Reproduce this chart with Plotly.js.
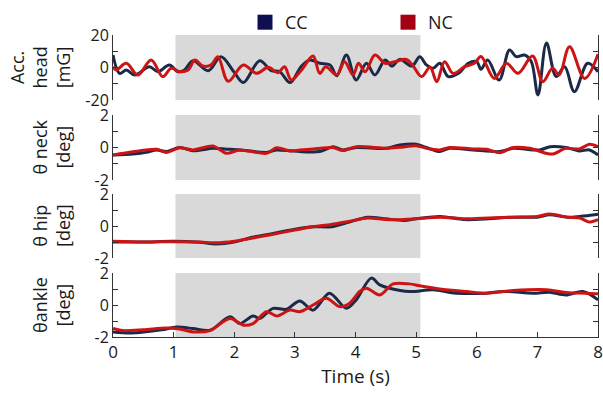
<!DOCTYPE html>
<html>
<head>
<meta charset="utf-8">
<script src="https://cdn.plot.ly/plotly-3.0.1.min.js"></script>
<style>html,body{margin:0;padding:0;background:#fff;}#chart{width:603px;height:394px;}</style>
</head>
<body>
<div id="chart"></div>
<script>
// ---- Data ----
const seriesNames = ['CC', 'NC'];
const xTicks = [0, 1, 2, 3, 4, 5, 6, 7, 8];
const stimWindow = [1.03, 5.07];

// Panel 1: Acc. head [mG]
const tHeadCC = [0,0.11,0.22,0.36,0.60,0.74,0.93,1.07,1.18,1.32,1.57,1.78,2.0,2.15,2.42,2.61,2.75,2.92,3.11,3.25,3.41,3.58,3.69,3.85,4.01,4.18,4.32,4.49,4.60,4.73,4.93,5.06,5.17,5.28,5.39,5.53,5.70,5.86,6.0,6.07,6.18,6.37,6.54,6.65,6.79,6.90,7.01,7.15,7.31,7.45,7.61,7.83,8.0];
const headCC = [7.7,-3.6,-1.5,-4.6,0.5,-2.6,1.6,-2.6,-1.5,4.2,-2.0,6.6,-3,-9.3,4.2,-1.9,-2.6,-9.3,0.9,4.6,2.6,1.6,-5.1,7.7,-7.7,2.6,-4.6,4.6,0.9,5.0,0.9,6.6,1.6,-0.5,2.6,-5.6,-3.6,2.6,3.6,-1.1,4.6,-7.7,10.8,6.7,7.7,3.6,-16.9,15.1,-5.6,0.5,-14.9,2.6,-2.6];
const tHeadNC = [0,0.05,0.22,0.41,0.63,0.82,0.96,1.10,1.24,1.35,1.48,1.62,1.73,1.90,2.15,2.37,2.56,2.72,2.83,2.94,3.11,3.30,3.41,3.51,3.69,3.82,3.96,4.05,4.16,4.32,4.49,4.65,4.84,4.95,5.09,5.23,5.34,5.47,5.61,5.80,5.96,6.07,6.29,6.49,6.68,6.92,7.09,7.25,7.36,7.53,7.78,8.0];
const headNC = [0.5,-1.5,2.6,-4.6,4.6,-5.6,-0.5,-2.6,-1.5,4.6,0.9,1.6,6.6,-8.5,1.6,-3.6,0.1,-3.2,0.5,-7.7,-1.5,7.1,-3.6,0.5,-4.6,3.6,-4.6,2.6,-2.6,7.7,2.6,3.6,5.0,0.9,-5.6,0.1,-8.7,3.6,-3.6,0.5,2.6,6.7,-6.7,2.6,-3.6,7.1,-8.7,-0.5,-4.6,12.8,-6.7,8.2];

// Panel 2: θ neck [deg]
const tNeckCC = [0,0.33,0.55,0.72,0.88,1.10,1.32,1.65,1.87,2.09,2.53,2.70,2.92,3.08,3.41,3.63,3.79,4.01,4.51,4.73,5.00,5.17,5.39,5.55,5.94,6.38,6.60,7.04,7.21,7.47,7.69,7.86,8.0];
const neckCC = [-0.46,-0.4,-0.3,-0.15,-0.25,0.0,-0.2,-0.05,-0.1,-0.15,-0.3,-0.15,-0.2,-0.25,-0.25,0.05,-0.15,0.0,-0.05,0.15,0.2,0.0,-0.25,-0.05,-0.15,-0.25,-0.05,-0.15,0.05,0.0,-0.21,-0.15,-0.46];
const tNeckNC = [0,0.33,0.72,0.88,1.10,1.32,1.65,1.87,2.09,2.53,2.70,2.92,3.08,3.30,3.63,3.79,4.01,4.51,4.73,5.00,5.17,5.39,5.55,5.94,6.16,6.38,6.60,6.87,7.15,7.26,7.47,7.69,7.86,8.0];
const neckNC = [-0.46,-0.26,-0.11,-0.3,-0.01,-0.15,0.09,-0.36,-0.15,-0.36,-0.01,-0.21,-0.15,-0.09,0.0,-0.19,0.05,-0.05,0.01,0.11,-0.05,-0.15,0.0,-0.09,-0.11,-0.32,0.0,-0.05,-0.36,-0.4,-0.05,-0.09,0.2,0.05];

// Panel 3: θ hip [deg]
const tHip = [0,0.5,1.0,1.43,1.7,2.0,2.3,2.6,3.0,3.3,3.6,3.9,4.2,4.5,4.8,5.0,5.4,5.8,6.2,6.6,7.0,7.2,7.5,7.7,7.85,8.0];
const hipCC = [-1.0,-1.0,-0.95,-1.02,-1.12,-1.0,-0.7,-0.5,-0.2,-0.05,-0.05,0.25,0.55,0.45,0.35,0.45,0.6,0.4,0.45,0.55,0.55,0.7,0.55,0.6,0.65,0.73];
const hipNC = [-0.95,-1.0,-0.98,-1.0,-1.05,-0.95,-0.75,-0.55,-0.25,-0.05,0.1,0.3,0.5,0.4,0.4,0.45,0.55,0.45,0.5,0.55,0.6,0.75,0.55,0.5,0.25,0.4];

// Panel 4: θ ankle [deg]
const tAnkleCC = [0,0.3,0.8,1.05,1.32,1.6,1.93,2.09,2.31,2.42,2.64,2.86,3.08,3.30,3.57,3.85,4.01,4.26,4.40,4.56,4.89,5.28,5.66,6.16,6.44,6.93,7.2,7.47,7.75,8.0];
const ankleCC = [-1.68,-1.75,-1.55,-1.37,-1.47,-1.58,-0.74,-1.16,-0.69,-0.84,-0.21,-0.27,0.25,-0.32,0.74,-0.21,0.32,1.68,1.26,1.05,0.84,0.95,0.74,0.74,0.85,0.74,0.8,0.63,0.84,0.32];
const tAnkleNC = [0,0.15,0.5,0.88,1.1,1.32,1.6,1.93,2.15,2.31,2.53,2.70,2.92,3.08,3.30,3.52,3.74,3.90,4.07,4.18,4.40,4.62,4.89,5.06,5.39,5.83,6.16,6.60,7.15,7.47,7.80,8.0];
const ankleNC = [-1.47,-1.6,-1.55,-1.43,-1.5,-1.68,-1.6,-0.84,-1.26,-1.16,-0.42,-0.69,-0.32,-0.42,0.0,0.42,-0.1,0.1,0.84,1.05,0.63,1.32,1.32,1.2,1.0,0.84,0.74,0.9,0.95,0.78,0.74,0.7];

const panelTitles = ['Acc.<br>head<br>[mG]', 'θ neck<br>[deg]', 'θ hip<br>[deg]', 'θankle<br>[deg]'];

// ---- Styling ----
const FONT = '"Open Sans", "Noto Sans", sans-serif';
const TXT = '#1a1a1a';
const AX = '#333333';
const lineCC = '#1a2a48';
const lineNC = '#cc1414';
const legCC = '#0e0e52';
const legNC = '#a30012';

function line(x, y, color, yaxis, smooth) {
  return {x: x, y: y, type: 'scatter', mode: 'lines', yaxis: yaxis, xaxis: 'x',
    line: {color: color, width: 3, shape: 'spline', smoothing: smooth}, showlegend: false, hoverinfo: 'skip'};
}

const traces = [
  line(tHeadCC, headCC, lineCC, 'y', 1.0),
  line(tHeadNC, headNC, lineNC, 'y', 1.0),
  line(tNeckCC, neckCC, lineCC, 'y2', 0.8),
  line(tNeckNC, neckNC, lineNC, 'y2', 0.8),
  line(tHip, hipCC, lineCC, 'y3', 0.8),
  line(tHip, hipNC, lineNC, 'y3', 0.8),
  line(tAnkleCC, ankleCC, lineCC, 'y4', 0.9),
  line(tAnkleNC, ankleNC, lineNC, 'y4', 0.9),
  {x: [null], y: [null], type: 'scatter', mode: 'markers', name: seriesNames[0], yaxis: 'y', xaxis: 'x',
    marker: {symbol: 'square', size: 15, color: legCC}},
  {x: [null], y: [null], type: 'scatter', mode: 'markers', name: seriesNames[1], yaxis: 'y', xaxis: 'x',
    marker: {symbol: 'square', size: 15, color: legNC}}
];

function yax(domain, range, vals, text) {
  return {domain: domain, range: range, anchor: 'x', showline: true, linecolor: AX, linewidth: 1,
    mirror: 'ticks', ticks: 'inside', ticklen: 5, tickcolor: AX, tickwidth: 1,
    tickvals: vals, ticktext: text, showgrid: false, zeroline: false, automargin: false,
    tickfont: {family: FONT, size: 16, color: TXT}, fixedrange: true};
}

const H = 302, bottom = 337;
function dom(topPx, botPx) { return [(bottom - botPx) / H, (bottom - topPx) / H]; }

const d1 = dom(35, 100), d2 = dom(115, 180), d3 = dom(194, 258), d4 = dom(273, 337);

const shapes = ['y', 'y2', 'y3', 'y4'].map(function (ya) {
  return {type: 'rect', xref: 'x', yref: ya + ' domain', x0: stimWindow[0], x1: stimWindow[1], y0: 0, y1: 1,
    fillcolor: '#d9d9d9', line: {width: 0}, layer: 'below'};
});

const titleX = [40, 51, 51, 51];
const titleY = [67.5, 147.5, 226, 305];
const annotations = panelTitles.map(function (txt, i) {
  return {text: txt, xref: 'paper', yref: 'paper', x: (titleX[i] - 113) / 485, y: (bottom - titleY[i]) / H,
    xanchor: 'center', yanchor: 'middle', textangle: -90, showarrow: false,
    font: {family: FONT, size: 18, color: TXT}};
});

const layout = {
  width: 603, height: 394,
  margin: {l: 113, r: 5, t: 35, b: 57, pad: 0, autoexpand: false},
  paper_bgcolor: '#ffffff', plot_bgcolor: 'rgba(0,0,0,0)',
  font: {family: FONT, color: TXT},
  showlegend: true,
  legend: {orientation: 'h', x: (245 - 113) / 485, xanchor: 'left', y: (bottom - 4) / H, yanchor: 'top',
    entrywidth: 98, entrywidthmode: 'pixels', font: {family: FONT, size: 18, color: TXT},
    bgcolor: 'rgba(0,0,0,0)', borderwidth: 0, itemclick: false, itemdoubleclick: false},
  xaxis: {range: [0, 8], anchor: 'y4', showline: true, linecolor: AX, linewidth: 1, mirror: false,
    ticks: 'inside', ticklen: 5, tickcolor: AX, tickvals: xTicks, showgrid: false, zeroline: false,
    automargin: false, tickfont: {family: FONT, size: 17, color: TXT},
    title: {text: 'Time (s)', font: {family: FONT, size: 19, color: TXT}, standoff: 4}, fixedrange: true},
  yaxis: yax(d1, [-20, 20], [-20, -10, 0, 10, 20], ['-20', '', '0', '', '20']),
  yaxis2: yax(d2, [-2, 2], [-2, -1, 0, 1, 2], ['-2', '', '0', '', '2']),
  yaxis3: yax(d3, [-2, 2], [-2, -1, 0, 1, 2], ['-2', '', '0', '', '2']),
  yaxis4: yax(d4, [-2, 2], [-2, -1, 0, 1, 2], ['-2', '', '0', '', '2']),
  shapes: shapes,
  annotations: annotations
};

Plotly.newPlot('chart', traces, layout, {displayModeBar: false, staticPlot: true});
</script>
</body>
</html>
